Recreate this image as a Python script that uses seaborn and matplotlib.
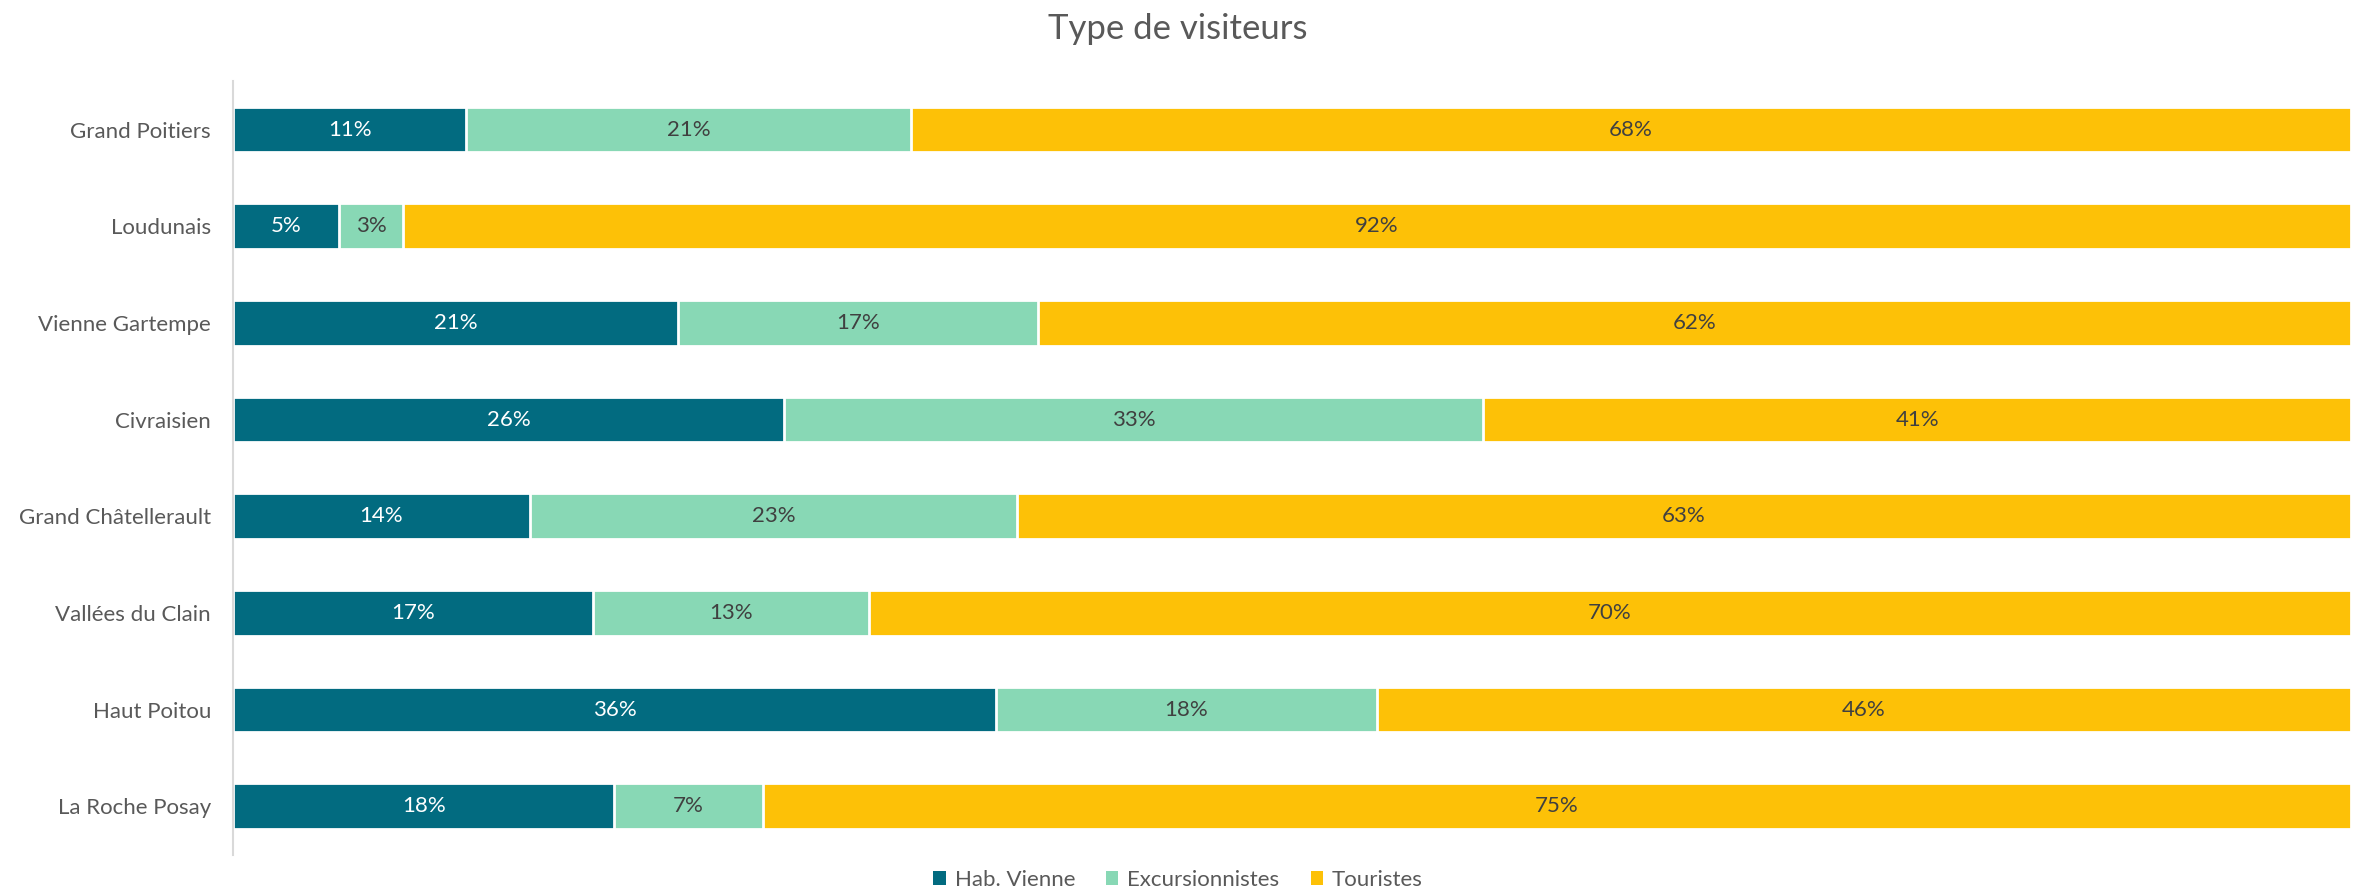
import matplotlib
matplotlib.use("Agg")
import matplotlib.pyplot as plt
from matplotlib.patches import Patch
import pandas as pd
import seaborn as sns

# Data
territoires = [
    "Grand Poitiers",
    "Loudunais",
    "Vienne Gartempe",
    "Civraisien",
    "Grand Châtellerault",
    "Vallées du Clain",
    "Haut Poitou",
    "La Roche Posay",
]
hab_vienne = [11, 5, 21, 26, 14, 17, 36, 18]
excursionnistes = [21, 3, 17, 33, 23, 13, 18, 7]
touristes = [68, 92, 62, 41, 63, 70, 46, 75]

series_names = ["Hab. Vienne", "Excursionnistes", "Touristes"]
colors = ["#026B80", "#88D8B5", "#FDC107"]
label_colors = ["white", "#404040", "#404040"]

df = pd.DataFrame({
    "Territoire": territoires,
    "Hab. Vienne": hab_vienne,
    "Excursionnistes": excursionnistes,
    "Touristes": touristes,
})
df["c1"] = df["Hab. Vienne"]
df["c2"] = df["c1"] + df["Excursionnistes"]
df["c3"] = df["c2"] + df["Touristes"]

sns.set_style("white")
plt.rcParams["font.family"] = ["Lato", "DejaVu Sans"]

fig = plt.figure(figsize=(23.56, 8.92), dpi=100)
ax = fig.add_axes([0.099, 0.042, 0.899, 0.867])

# Stacked bars drawn from the total down
for col, color in zip(["c3", "c2", "c1"], colors[::-1]):
    sns.barplot(
        data=df, x=col, y="Territoire", order=territoires,
        color=color, width=0.47, edgecolor="white", linewidth=2,
        saturation=1, ax=ax,
    )

# Segment labels
for i, row in df.iterrows():
    start = 0
    for name, tc in zip(series_names, label_colors):
        val = row[name]
        ax.text(start + val / 2, i, f"{val}%", ha="center", va="center",
                color=tc, fontsize=16)
        start += val

ax.set_xlim(0, 100)
ax.set_ylim(7.5, -0.5)
ax.set_xlabel("")
ax.set_ylabel("")
ax.set_xticks([])
ax.tick_params(axis="y", length=0, pad=16, labelsize=16, labelcolor="#595959")
for side in ["top", "right", "bottom"]:
    ax.spines[side].set_visible(False)
ax.spines["left"].set_color("#D9D9D9")
ax.spines["left"].set_linewidth(1.5)

fig.suptitle("Type de visiteurs", y=0.985, fontsize=25, color="#595959")

handles = [Patch(facecolor=c, edgecolor="none") for c in colors]
fig.legend(
    handles, series_names, loc="center", bbox_to_anchor=(0.5, 12 / 892),
    ncol=3, frameon=False, fontsize=16, labelcolor="#595959",
    handlelength=0.55, handleheight=0.55, handletextpad=0.4, columnspacing=1.4,
)

fig.savefig("out.png", dpi=100)
